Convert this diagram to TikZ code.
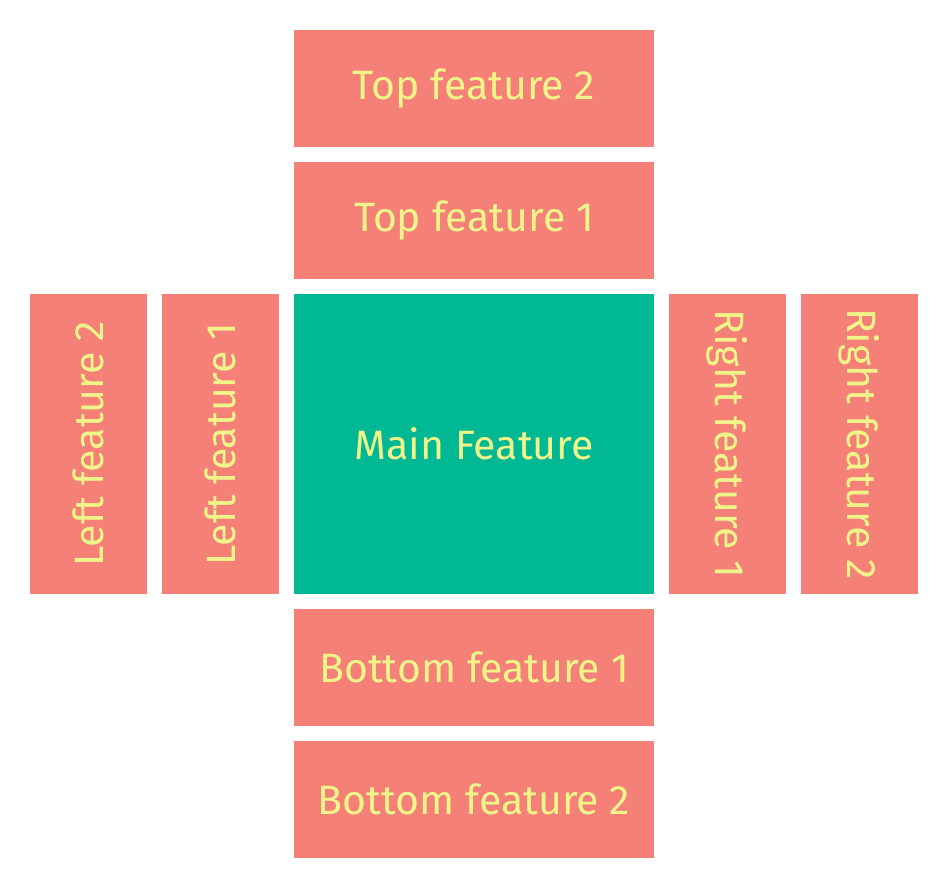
\documentclass[tikz,border=0pt]{standalone}
\usepackage{fontspec}
\setmainfont{Fira Sans}
\definecolor{salmon}{HTML}{F58077}
\definecolor{teal}{HTML}{00B894}
\definecolor{txt}{HTML}{F0F58A}
\begin{document}
\begin{tikzpicture}[x=1pt,y=-1pt,
  feat/.style={fill=salmon,draw=none,inner sep=0pt,text=txt,font=\fontsize{41}{44}\selectfont},
  mainf/.style={fill=teal,draw=none,inner sep=0pt,text=txt,font=\fontsize{41}{44}\selectfont}]
\useasboundingbox (0,0) rectangle (948,888);
\node[feat, minimum width=360pt, minimum height=117pt] (t2) at (474,88.5) {Top feature 2};
\node[feat, minimum width=360pt, minimum height=117pt] (t1) at (474,220.5) {Top feature 1};
\node[mainf, minimum width=360pt, minimum height=300pt] (m) at (474,444) {Main Feature};
\node[feat, minimum width=360pt, minimum height=117pt] (b1) at (474,667.5) {Bottom feature 1};
\node[feat, minimum width=360pt, minimum height=117pt] (b2) at (474,799.5) {Bottom feature 2};
\node[feat, minimum width=300pt, minimum height=117pt, rotate=90] (l2) at (88.5,444) {Left feature 2};
\node[feat, minimum width=300pt, minimum height=117pt, rotate=90] (l1) at (220.5,444) {Left feature 1};
\node[feat, minimum width=300pt, minimum height=117pt, rotate=-90] (r1) at (727.5,444) {Right feature 1};
\node[feat, minimum width=300pt, minimum height=117pt, rotate=-90] (r2) at (859.5,444) {Right feature 2};
\end{tikzpicture}
\end{document}
